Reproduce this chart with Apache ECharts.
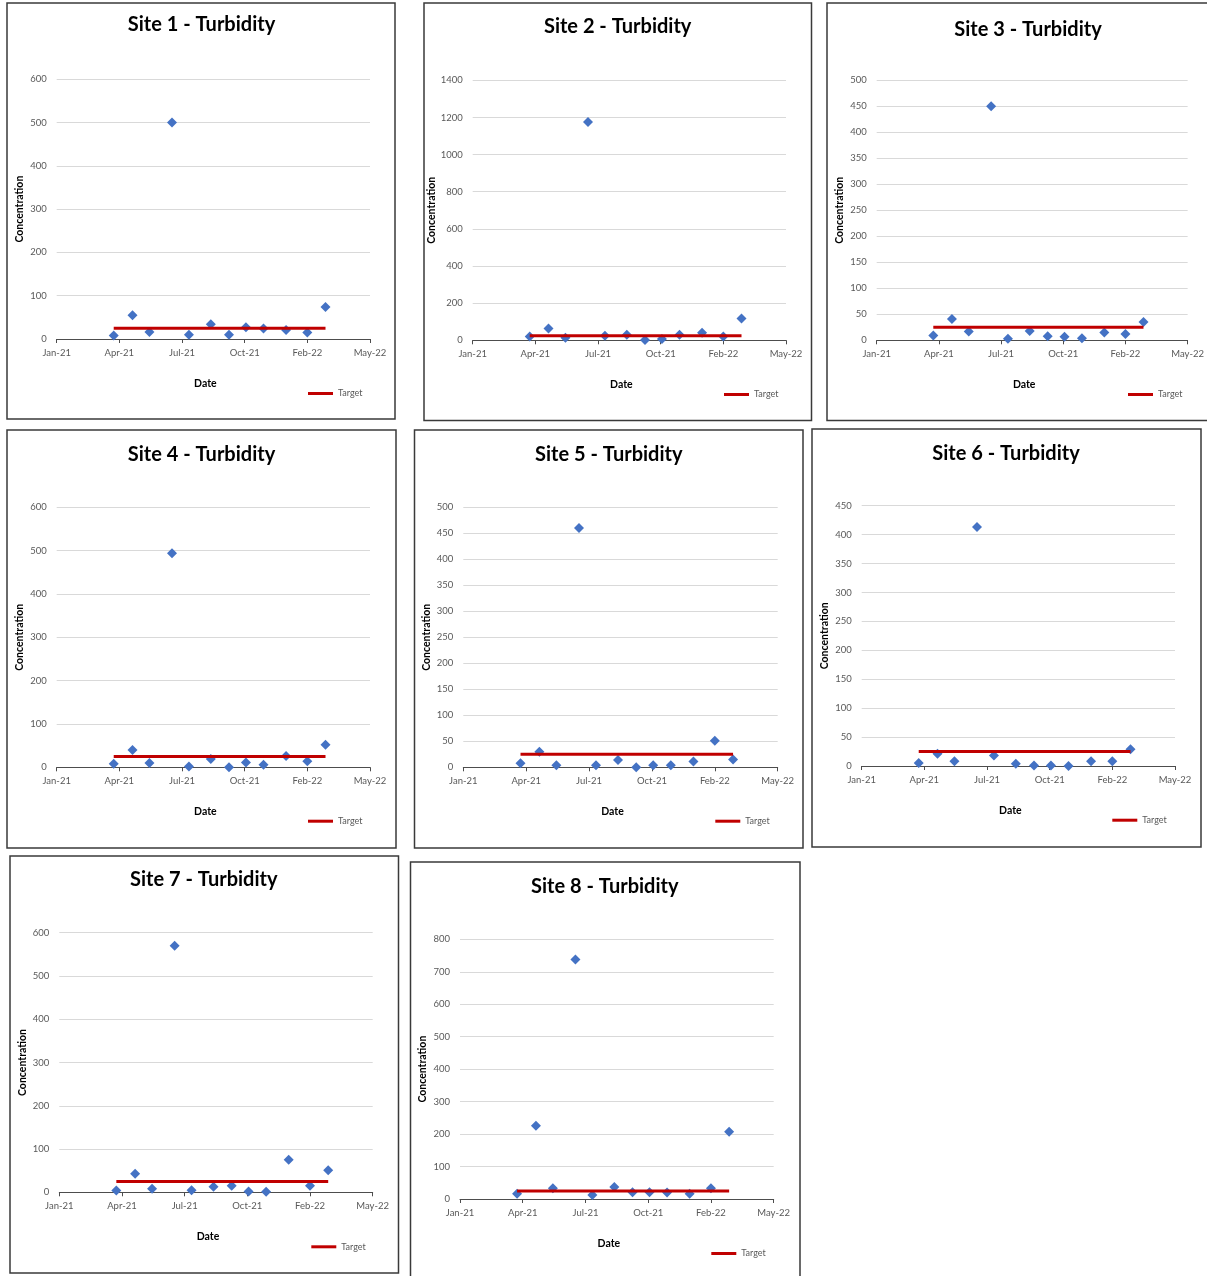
<!DOCTYPE html>
<html>
<head>
<meta charset="utf-8">
<script src="https://cdn.jsdelivr.net/npm/echarts@6/dist/echarts.min.js"></script>
<style>
html,body{margin:0;padding:0;background:#fff;overflow:hidden}
#c{width:1207px;height:1276px}
</style>
</head>
<body>
<div id="c"></div>
<script>
// ---------- data ----------
const siteNames = ['Site 1 - Turbidity','Site 2 - Turbidity','Site 3 - Turbidity','Site 4 - Turbidity',
                   'Site 5 - Turbidity','Site 6 - Turbidity','Site 7 - Turbidity','Site 8 - Turbidity'];
const sampleDates = ['2021-04-02','2021-05-02','2021-05-29','2021-07-04','2021-07-31','2021-09-04',
                     '2021-10-03','2021-10-30','2021-11-27','2022-01-02','2022-02-05','2022-03-06'];
const site1 = [8, 55, 16, 500, 10, 34, 10, 27, 24, 21, 15, 74];
const site2 = [20, 63, 14, 1175, 25, 30, 2, 7, 30, 40, 20, 118];
const site3 = [9, 41, 17, 450, 3, 18, 8, 7, 4, 15, 12, 35];
const site4 = [8, 40, 10, 494, 2, 19, 0, 11, 6, 26, 14, 52];
const site5 = [8, 30, 4, 460, 4, 14, 0, 4, 4, 11, 51, 15];
const site6 = [5, 21, 8, 413, 18, 4, 1, 1, 0, 8, 8, 29];
const site7 = [4, 43, 8, 570, 5, 13, 15, 2, 1, 75, 15, 51];
const site8 = [16, 226, 33, 738, 12, 37, 21, 21, 20, 16, 33, 207];
const targetValue = 25;
const xStartDate = '2021-01-01';
const xStepDays = 100;
const xTickLabels = ['Jan-21','Apr-21','Jul-21','Oct-21','Feb-22','May-22'];
const yMaxes = [600, 1400, 500, 600, 500, 450, 600, 800];
const yIntervals = [100, 200, 50, 100, 50, 50, 100, 100];
const legendLabel = 'Target';
const xAxisTitle = 'Date';
const yAxisTitle = 'Concentration';

// ---------- layout ----------
const panels = [
  {box:[7,3,388,416],      plot:[56.7,79.3,313.3,259.7], title:[201.5,25],   legend:[308,395],    yGap:31.5},
  {box:[424,3,387.5,417.5],plot:[472.7,80.3,313.3,260],  title:[617.7,26.7], legend:[724,396],    yGap:34},
  {box:[827,3,402,417.5],  plot:[876.7,80.3,314,260],    title:[1028,30],    legend:[1128,396],   yGap:31.5},
  {box:[7,430,389,418],    plot:[56.7,507.3,313.3,260],  title:[201.5,454.3],legend:[308,822.7],  yGap:31.5},
  {box:[414.5,430,388.5,418],plot:[463.3,507.3,314.4,260],title:[608.8,454.3],legend:[715.3,822.7],yGap:31.5},
  {box:[812,429,389,418],  plot:[861.7,505.7,313.3,260.3],title:[1006,453.3],legend:[1112.3,821.7],yGap:31.5},
  {box:[10,856,388.5,417], plot:[59.3,932.7,313.4,259.6],title:[203.8,880],  legend:[311.3,1248.3],yGap:31.5},
  {box:[410.5,862,389.5,430],plot:[460,939.3,313.7,259.7],title:[604.8,886.7],legend:[711.3,1255], yGap:31.5}
];

const sites = [site1, site2, site3, site4, site5, site6, site7, site8];
const t0 = Date.parse(xStartDate);
const xDays = sampleDates.map(s => (Date.parse(s) - t0) / 86400000);

const FONT = 'Lato, "Open Sans", sans-serif';
const TITLE_FONT = 'Lato, sans-serif';

const option = {
  animation: false,
  backgroundColor: '#ffffff',
  title: [], legend: [], grid: [], xAxis: [], yAxis: [], series: [], graphic: []
};

panels.forEach((p, i) => {
  option.graphic.push({
    type: 'rect', silent: true, z: 100,
    shape: {x: p.box[0], y: p.box[1], width: p.box[2], height: p.box[3]},
    style: {fill: 'none', stroke: '#3a3a3a', lineWidth: 1.5}
  });
  option.title.push({
    text: siteNames[i], left: p.title[0], top: p.title[1],
    textAlign: 'center', textVerticalAlign: 'middle', padding: 0,
    textStyle: {fontFamily: TITLE_FONT, fontSize: 20, fontWeight: 'bold', color: '#000'}
  });
  option.grid.push({left: p.plot[0], top: p.plot[1], width: p.plot[2], height: p.plot[3], containLabel: false});
  option.xAxis.push({
    type: 'value', gridIndex: i, min: 0, max: (xTickLabels.length - 1) * xStepDays, interval: xStepDays,
    axisLine: {show: true, onZero: false, lineStyle: {color: '#4d4d4d', width: 1}},
    axisTick: {show: true, inside: false, length: 4, lineStyle: {color: '#4d4d4d', width: 1}},
    splitLine: {show: false},
    axisLabel: {formatter: v => xTickLabels[Math.round(v / xStepDays)], color: '#595959',
                fontSize: 9.5, margin: 9, fontFamily: FONT},
    name: xAxisTitle, nameLocation: 'middle', nameGap: 39,
    nameTextStyle: {fontFamily: FONT, fontSize: 10.5, fontWeight: 'bold', color: '#000', padding: [0, 16, 0, 0]}
  });
  option.yAxis.push({
    type: 'value', gridIndex: i, min: 0, max: yMaxes[i], interval: yIntervals[i],
    axisLine: {show: false}, axisTick: {show: false},
    splitLine: {show: true, lineStyle: {color: '#d9d9d9', width: 1}},
    axisLabel: {formatter: v => String(v), color: '#595959', fontSize: 9.5, margin: 10, fontFamily: FONT},
    name: yAxisTitle, nameLocation: 'middle', nameRotate: 90, nameGap: p.yGap,
    nameTextStyle: {fontFamily: FONT, fontSize: 10.5, fontWeight: 'bold', color: '#000'}
  });
  option.series.push({
    type: 'scatter', name: 'Turbidity', xAxisIndex: i, yAxisIndex: i,
    data: xDays.map((d, k) => [d, sites[i][k]]),
    symbol: 'diamond', symbolSize: 10, itemStyle: {color: '#4472C4', opacity: 1}
  });
  option.series.push({
    type: 'line', name: legendLabel, xAxisIndex: i, yAxisIndex: i,
    data: [[xDays[0], targetValue], [xDays[xDays.length - 1], targetValue]],
    symbol: 'none', lineStyle: {color: '#C00000', width: 3}, itemStyle: {color: '#C00000'}
  });
  option.legend.push({
    data: [{name: legendLabel, icon: 'rect'}], left: p.legend[0], top: p.legend[1] - 6, padding: 0,
    itemWidth: 25, itemHeight: 3, itemGap: 0,
    textStyle: {fontFamily: FONT, fontSize: 9, color: '#595959'}
  });
});

const chart = echarts.init(document.getElementById('c'), null, {renderer: 'canvas'});
chart.setOption(option);
</script>
</body>
</html>
